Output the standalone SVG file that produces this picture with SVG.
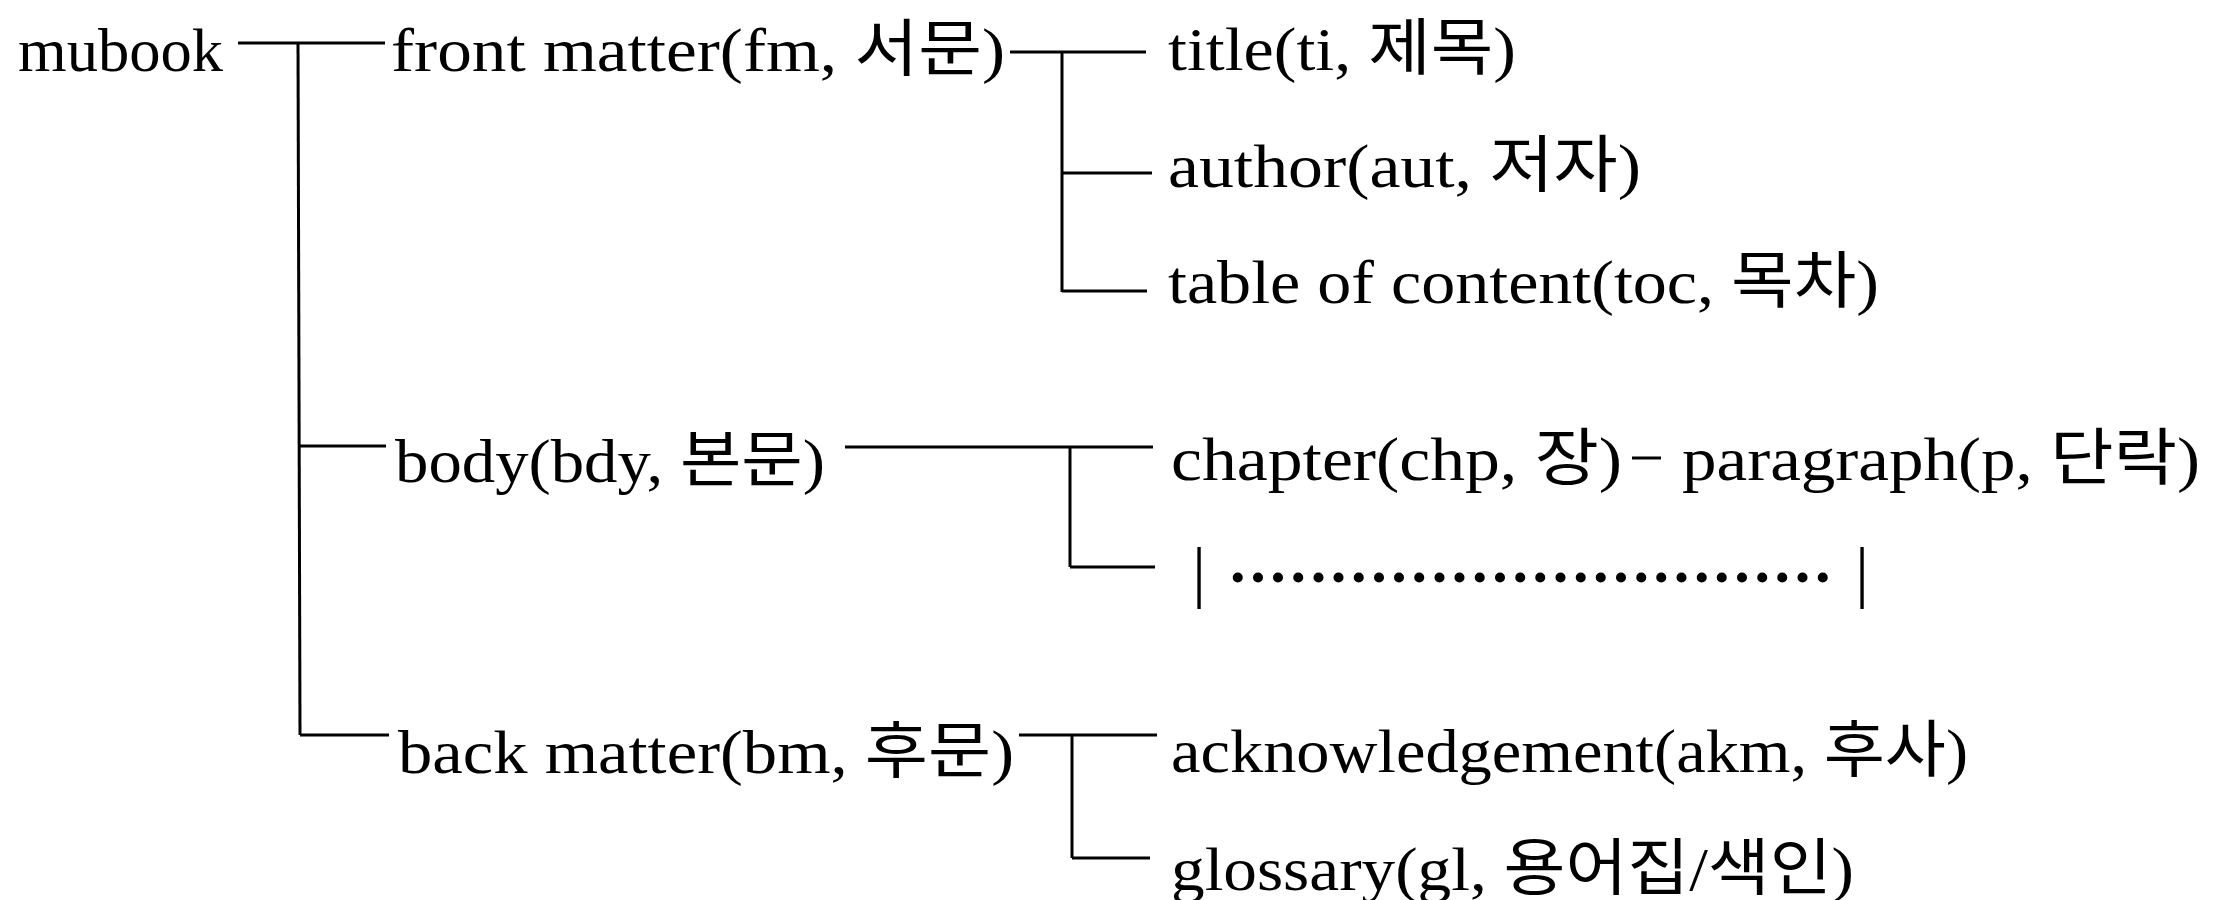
<svg xmlns="http://www.w3.org/2000/svg" width="2216" height="900" viewBox="0 0 2216 900">
<style>
.t{font-family:"Liberation Serif","Noto Sans CJK KR",serif;font-size:62px;fill:#000}
.b{font-family:"Liberation Serif",serif;font-size:68px;fill:#000}
.c{stroke:#000;stroke-width:3;fill:none;stroke-linecap:butt}
.d{font-family:"Liberation Serif",serif;font-size:62px;font-weight:bold;fill:#000;letter-spacing:4.67px}
</style>
<rect x="0" y="0" width="2216" height="900" fill="#fff"/>
<g id="connectors">
<path class="c" d="M238,43 H385"/>
<path class="c" d="M298,43 L300,735"/>
<path class="c" d="M299,446 H386"/>
<path class="c" d="M300,735 H389"/>
<path class="c" d="M1010,52 H1146"/>
<path class="c" d="M1062,52 V292"/>
<path class="c" d="M1062,173 H1152"/>
<path class="c" d="M1062,291 H1147"/>
<path class="c" d="M845,447 H1153"/>
<path class="c" d="M1070,447 V567"/>
<path class="c" d="M1070,567 H1155"/>
<path class="c" d="M1019,735 H1157"/>
<path class="c" d="M1072,735 V858"/>
<path class="c" d="M1072,858 H1150"/>
<path class="c" d="M1632,458 H1661"/>
</g>
<g id="mubook"><text class="t" x="18" y="71" textLength="205" lengthAdjust="spacingAndGlyphs">mubook</text></g>
<g id="fm"><text class="t" x="391" y="71" textLength="614" lengthAdjust="spacingAndGlyphs">front matter(fm, 서문)</text></g>
<g id="ti"><text class="t" x="1168" y="70" textLength="348" lengthAdjust="spacingAndGlyphs">title(ti, 제목)</text></g>
<g id="aut"><text class="t" x="1168" y="187" textLength="473" lengthAdjust="spacingAndGlyphs">author(aut, 저자)</text></g>
<g id="toc"><text class="t" x="1168" y="303" textLength="711" lengthAdjust="spacingAndGlyphs">table of content(toc, 목차)</text></g>
<g id="bdy"><text class="t" x="395" y="482" textLength="430" lengthAdjust="spacingAndGlyphs">body(bdy, 본문)</text></g>
<g id="chp"><text class="t" x="1171" y="480" textLength="451" lengthAdjust="spacingAndGlyphs">chapter(chp, 장)</text></g>
<g id="p"><text class="t" x="1682" y="480" textLength="518" lengthAdjust="spacingAndGlyphs">paragraph(p, 단락)</text></g>
<g id="more">
<text class="b" x="1199" y="595" text-anchor="middle">|</text>
<text class="d" x="1230" y="582">..............................</text>
<text class="b" x="1862" y="595" text-anchor="middle">|</text>
</g>
<g id="bm"><text class="t" x="398" y="773" textLength="616" lengthAdjust="spacingAndGlyphs">back matter(bm, 후문)</text></g>
<g id="akm"><text class="t" x="1171" y="772" textLength="797" lengthAdjust="spacingAndGlyphs">acknowledgement(akm, 후사)</text></g>
<g id="gl"><text class="t" x="1171" y="890" textLength="683" lengthAdjust="spacingAndGlyphs">glossary(gl, 용어집/색인)</text></g>
</svg>
